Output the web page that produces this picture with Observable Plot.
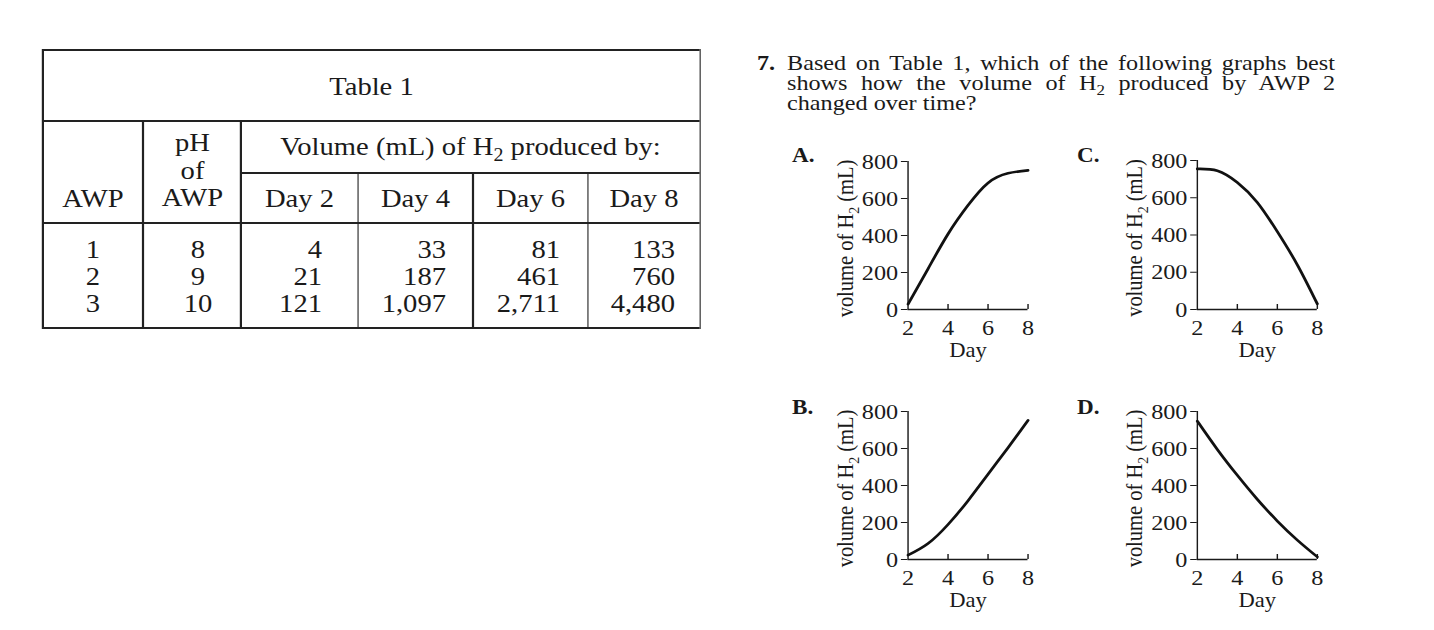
<!DOCTYPE html>
<html><head><meta charset="utf-8">
<script src="https://cdn.jsdelivr.net/npm/d3@7"></script>
<script src="https://cdn.jsdelivr.net/npm/@observablehq/plot@0.6"></script>
<style>
html,body{margin:0;padding:0;background:#fff;width:1434px;height:630px;overflow:hidden;}
#stage{position:absolute;left:0;top:0;width:1303.64px;height:630px;transform:scaleX(1.1);transform-origin:0 0;font-family:"Liberation Serif","Times New Roman",serif;color:#1a1a1a;}
.abs{position:absolute;white-space:nowrap;}
.ln{position:absolute;background:#222;}
.sub{font-size:0.7em;position:relative;top:0.32em;line-height:0;}
</style></head><body><div id="stage"></div>
<script>
// ---------- data ----------
const awp = [1, 2, 3];
const phValues = [8, 9, 10];
const dayHeaders = ["Day 2", "Day 4", "Day 6", "Day 8"];
const volAWP1 = [4, 33, 81, 133];
const volAWP2 = [21, 187, 461, 760];
const volAWP3 = [121, 1097, 2711, 4480];

const graphDays = [2, 3, 4, 5, 6, 7, 8];
const curveA = [29, 220, 408, 563, 684, 736, 752];
const curveB = [23, 86, 189, 318, 461, 604, 752];
const curveC = [755, 745, 682, 575, 418, 240, 30];
const curveD = [748, 595, 455, 325, 208, 105, 14];
const yTicks = [0, 200, 400, 600, 800];
const xTicks = [2, 4, 6, 8];
const yAxisLabel = "volume of H₂ (mL)";
const xAxisLabel = "Day";
const questionNumber = "7.";
const questionText = "Based on Table 1, which of the following graphs best shows how the volume of H₂ produced by AWP 2 changed over time?";
const tableTitle = "Table 1";
const volumeHeader = "Volume (mL) of H₂ produced by:";

// ---------- helpers ----------
const S = 1.1;                 // horizontal stretch of the scan
const X = t => t / S;          // target x -> stage x
const stage = document.getElementById("stage");
const sub = s => s.replace(/₂/g, '<span class="sub">2</span>');
const base = (F, L) => (L - 1.107 * F) / 2 + 0.891 * F;

function line(x1, y1, x2, y2, w = 1.7) {
  const d = document.createElement("div");
  d.className = "ln";
  if (y1 === y2) {
    d.style.left = X(x1) + "px"; d.style.width = (X(x2) - X(x1)) + "px";
    d.style.top = (y1 - w / 2) + "px"; d.style.height = w + "px";
  } else {
    d.style.left = (X(x1) - w / 2 / S) + "px"; d.style.width = (w / S) + "px";
    d.style.top = (y1 - w / 2) + "px"; d.style.height = (y2 - y1 + w) + "px";
  }
  stage.appendChild(d);
}
function text(html, {cx, rx, lx, baseline, size = 26, lh = 27, weight = "normal", align}) {
  const d = document.createElement("div");
  d.className = "abs";
  d.innerHTML = html;
  d.style.fontSize = size + "px";
  d.style.lineHeight = lh + "px";
  d.style.fontWeight = weight;
  d.style.top = (baseline - base(size, lh)) + "px";
  if (cx !== undefined) { d.style.left = X(cx) + "px"; d.style.transform = "translateX(-50%)"; d.style.textAlign = align || "center"; }
  else if (rx !== undefined) { d.style.right = (1434 / S - X(rx)) + "px"; d.style.textAlign = "right"; }
  else { d.style.left = X(lx) + "px"; }
  stage.appendChild(d);
  return d;
}

// ---------- table ----------
const colEdges = [43, 143, 241, 358, 473, 588, 700];
const yTop = 50, yTitle = 121, yMid = 173, yHead = 223, yBot = 328;
line(43, yTop, 700, yTop);
line(43, yTitle, 700, yTitle);
line(241, yMid, 700, yMid);
line(43, yHead, 700, yHead);
line(43, yBot, 700, yBot);
line(43, yTop, 43, yBot);
line(700, yTop, 700, yBot);
line(143, yTitle, 143, yBot);
line(241, yTitle, 241, yBot);
[358, 473, 588].forEach(x => line(x, yMid, x, yBot));

text(tableTitle, {cx: 371.5, baseline: 95});
text("AWP", {cx: 93, baseline: 207});
text("pH<br>of<br>AWP", {cx: 192.5, baseline: 152, lh: 27.5});
text(sub(volumeHeader), {cx: 470.5, baseline: 155});
dayHeaders.forEach((h, i) => text(h, {cx: (colEdges[i + 2] + colEdges[i + 3]) / 2, baseline: 207}));

const fmt = d3.format(",");
text(awp.join("<br>"), {cx: 93, baseline: 258});
text(phValues.join("<br>"), {cx: 198, baseline: 258});
const rightEdges = [322, 446, 560, 675];
dayHeaders.forEach((h, i) => {
  const col = [volAWP1[i], volAWP2[i], volAWP3[i]].map(fmt).join("<br>");
  text(col, {rx: rightEdges[i], baseline: 258});
});

// ---------- question ----------
text(questionNumber, {lx: 757, baseline: 70.7, size: 22, lh: 19.7, weight: "bold"});
const q = text(sub(questionText), {lx: 787, baseline: 70.7, size: 22, lh: 19.7});
q.style.whiteSpace = "normal";
q.style.width = (X(1335) - X(787)) + "px";
q.style.textAlign = "justify";

// ---------- graphs ----------
const panels = [
  {letter: "A.", vals: curveA, ax: 908, x8: 1028, y800: 161, y0: 309, lx: 792, lb: 163},
  {letter: "B.", vals: curveB, ax: 908, x8: 1028, y800: 411, y0: 559, lx: 792, lb: 415},
  {letter: "C.", vals: curveC, ax: 1197, x8: 1317, y800: 160, y0: 309, lx: 1077, lb: 163},
  {letter: "D.", vals: curveD, ax: 1197, x8: 1317, y800: 411, y0: 559, lx: 1077, lb: 415}
];
const ML = 75, MR = 15, MT = 15, MB = 60;

panels.forEach(p => {
  text(p.letter, {lx: p.lx, baseline: p.lb, size: 21, lh: 21, weight: "bold"});
  const pw = X(p.x8) - X(p.ax), ph = p.y0 - p.y800;
  const data = graphDays.map((d, i) => ({day: d, v: p.vals[i]}));
  const svg = Plot.plot({
    width: ML + pw + MR, height: MT + ph + MB,
    marginLeft: ML, marginRight: MR, marginTop: MT, marginBottom: MB,
    style: {fontFamily: '"Liberation Serif","Times New Roman",serif', fontSize: "22px", background: "transparent", color: "#1a1a1a", overflow: "visible"},
    x: {domain: [2, 8], ticks: xTicks, tickFormat: d => String(d), tickSize: 0, tickPadding: 10, label: null},
    y: {domain: [0, 800], ticks: yTicks, tickFormat: d => String(d), tickSize: 6, tickPadding: 3, label: null},
    marks: [
      Plot.ruleX([2], {stroke: "#1a1a1a", strokeWidth: 1.3}),
      Plot.ruleY([0], {stroke: "#1a1a1a", strokeWidth: 1.3}),
      Plot.ruleX(xTicks.slice(1), {x: d => d, y1: 0, y2: 0, insetBottom: 5, stroke: "#1a1a1a", strokeWidth: 1.3}),
      Plot.line(data, {x: "day", y: "v", curve: "natural", stroke: "#111", strokeWidth: 2.6}),
      Plot.text([yAxisLabel], {text: d => d, frameAnchor: "left", textAnchor: "middle", rotate: -90, dx: -57, dy: 3, fontSize: 20.5, fill: "#1a1a1a"}),
      Plot.text([xAxisLabel], {text: d => d, frameAnchor: "bottom", textAnchor: "middle", dy: 48, fontSize: 20.5, fill: "#1a1a1a"})
    ]
  });
  svg.style.position = "absolute";
  svg.style.left = (X(p.ax) - ML) + "px";
  svg.style.top = (p.y800 - MT) + "px";
  svg.style.maxWidth = "none";
  // subscript in axis label
  svg.querySelectorAll("text").forEach(t => {
    if (t.textContent.includes("₂")) {
      const parts = t.textContent.split("₂");
      t.textContent = "";
      const ns = "http://www.w3.org/2000/svg";
      const a = document.createElementNS(ns, "tspan"); a.textContent = parts[0];
      const b = document.createElementNS(ns, "tspan"); b.textContent = "2"; b.setAttribute("font-size", "14"); b.setAttribute("dy", "6");
      const c = document.createElementNS(ns, "tspan"); c.textContent = parts[1]; c.setAttribute("dy", "-6");
      t.append(a, b, c);
    }
  });
  stage.appendChild(svg);
});
</script></body></html>
